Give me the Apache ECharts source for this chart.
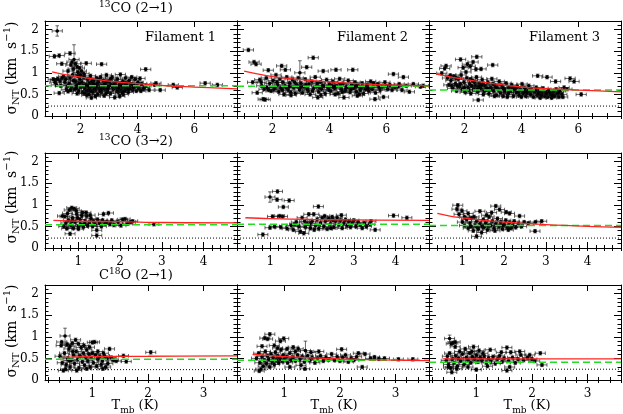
<!DOCTYPE html>
<html><head><meta charset="utf-8">
<script src="https://cdn.jsdelivr.net/npm/echarts@6/dist/echarts.min.js"></script>
<style>html,body{margin:0;padding:0;background:#fff}#c{width:623px;height:414px}</style>
</head><body><div id="c"></div>
<script>
// ---------------- DATA ----------------
const rowTitles = [['13','CO (2→1)'],['13','CO (3→2)'],['18','O (2→1)']];
const filamentNames = ['Filament 1','Filament 2','Filament 3'];
const xRange = [[0.75,7.5],[0.2,4.8],[0.15,3.6]];
const yRange = [0,2.2];
const xMajorTicks = [[2,4,6],[1,2,3,4],[1,2,3]];
const xMinorStep = [0.5,0.2,0.2];
const yMajorTicks = [0,0.5,1,1.5,2];
const yMinorStep = 0.1;
const xErr = [0.18,0.12,0.09];
const yErrDefault = 0.04;

// [Tmb, sigma, (optional sigma error)]
const p11 = [
[1.18,1.97,0.12],[1.08,1.38],[1.25,1.40],[1.63,1.45],[1.34,1.21],[1.77,1.31,0.34],[1.70,1.25],[1.82,1.21],[1.88,1.14],[1.96,1.11],[1.66,1.18],[1.74,1.09],[2.03,1.04],[2.20,1.22],[2.74,1.20],[4.29,1.08],[1.56,1.04],[1.91,1.01],[2.12,0.98],
[1.04,0.85],[1.12,0.83],[1.20,0.86],[1.28,0.81],[1.25,0.53],[1.40,0.92],[1.45,0.78],[1.50,0.62],[1.56,0.57],[1.60,0.75],[1.63,0.88],[1.68,0.68],[1.72,0.95],[1.78,0.62],[1.83,0.80],[1.86,0.71],[1.90,0.92],[1.93,0.58],[1.98,0.85],[2.01,0.67],
[2.05,0.78],[2.08,0.55],[2.12,0.90],[2.15,0.64],[2.18,0.72],[2.22,0.48],[2.25,0.85],[2.28,0.60],[2.31,0.76],[2.35,0.93],[2.38,0.42],[2.41,0.68],[2.43,0.55],[2.46,0.82],[2.50,0.72],[2.53,0.60],[2.56,0.88],[2.60,0.50],[2.62,0.78],[2.66,0.65],[2.70,0.90],[2.72,0.55],[2.76,0.70],[2.80,0.82],[2.83,0.47],[2.86,0.62],[2.88,0.75],[2.91,0.95],[2.95,0.57],[2.98,0.68],
[3.01,0.80],[3.05,0.52],[3.08,0.72],[3.11,0.90],[3.15,0.62],[3.20,0.43],[3.23,0.78],[3.26,0.66],[3.30,0.85],[3.33,0.55],[3.36,0.72],[3.40,0.96],[3.43,0.60],[3.48,0.80],[3.50,0.50],[3.53,0.68],[3.58,0.88],[3.60,0.62],[3.63,0.75],[3.68,0.55],[3.71,0.82],[3.75,0.66],[3.80,0.90],[3.83,0.60],[3.88,0.72],[3.92,0.85],[3.96,0.58],[4.00,0.70],[4.05,0.64],[4.09,0.87],[4.15,0.75],[4.20,0.62],[4.30,0.70],
[4.41,0.60],[4.60,0.72],[4.65,0.76],[4.80,0.60],[5.26,0.72],[5.40,0.66],[6.38,0.76],[6.81,0.72],
[2.10,0.70],[2.33,0.66],[2.48,0.62],[2.58,0.74],[2.68,0.58],[2.78,0.64],[2.93,0.80],[3.13,0.68],[3.28,0.58],[3.45,0.70],[3.55,0.58],[3.65,0.66],[3.78,0.74],[2.20,0.58],[2.40,0.80],[1.95,0.75],[1.75,0.82],[1.55,0.70],[1.35,0.88],[1.15,0.72],
[1.10,0.78],[1.30,0.70],[1.48,0.85],[1.65,0.60],[1.85,0.64],[2.00,0.95],[2.14,0.52],[2.26,0.70],[2.36,0.58],[2.44,0.74],[2.54,0.66],[2.64,0.84],[2.74,0.62],[2.84,0.72],[2.96,0.64],[3.06,0.86],[3.18,0.74],[3.34,0.64],[3.46,0.54],[3.56,0.76],[3.70,0.62],[3.86,0.66],[4.02,0.78],[4.12,0.58],[2.30,0.50],[2.90,0.52],[3.38,0.46],[2.52,0.46],[1.88,0.52],[4.25,0.66]
];
const p12 = [
[1.15,1.53],[1.35,1.25],[1.42,1.20],[1.85,1.06],[3.43,1.35],[2.96,1.00,0.28],[2.32,1.16],[2.45,1.07],[3.20,1.13],[3.78,1.04],[4.23,1.07],[4.82,1.07],[1.46,0.54],[1.67,0.39],[1.74,0.38],[3.59,0.43],[4.51,0.43],[4.98,0.47],[5.60,0.39],[5.90,0.44],[6.25,0.97],[6.60,0.90],[6.81,0.56],[7.30,0.70],
[1.30,0.78],[1.55,0.84],[1.62,0.70],[1.70,0.62],[1.78,0.88],[1.90,0.75],[1.95,0.58],[2.02,0.82],[2.08,0.66],[2.12,0.95],[2.18,0.72],[2.22,0.56],[2.26,0.86],[2.30,0.64],[2.36,0.78],[2.40,0.50],[2.44,0.70],[2.50,0.90],[2.55,0.60],[2.60,0.76],[2.64,0.55],[2.70,0.84],[2.74,0.66],[2.80,0.52],[2.85,0.72],[2.90,0.88],[2.95,0.60],[3.00,0.76],[3.05,0.54],[3.10,0.68],[3.15,0.85],[3.22,0.62],[3.28,0.74],[3.32,0.50],[3.38,0.80],[3.45,0.64],[3.50,0.90],[3.55,0.70],[3.62,0.56],[3.68,0.78],[3.72,0.62],[3.80,0.70],[3.85,0.52],[3.90,0.84],[3.95,0.66],[4.00,0.74],[4.05,0.58],[4.12,0.80],[4.18,0.64],[4.25,0.70],[4.30,0.52],[4.36,0.86],[4.42,0.62],[4.48,0.75],[4.55,0.58],[4.60,0.68],[4.66,0.82],[4.72,0.55],[4.78,0.72],[4.85,0.64],[4.90,0.78],[4.95,0.56],[5.02,0.70],[5.08,0.60],[5.15,0.76],[5.20,0.52],[5.25,0.66],[5.32,0.72],[5.38,0.58],[5.45,0.80],[5.50,0.62],[5.56,0.70],[5.62,0.54],[5.70,0.74],[5.78,0.60],[5.85,0.68],[5.95,0.78],[6.05,0.62],[6.12,0.72],[6.30,0.66],[6.45,0.74],[6.55,0.60],[6.70,0.70],[6.95,0.74],[7.20,0.68],
[2.05,0.62],[2.48,0.66],[2.88,0.68],[3.25,0.58],[3.65,0.66],[4.08,0.70],[4.45,0.56],[4.88,0.68],[5.28,0.62],[1.80,0.66],
[1.60,0.78],[1.86,0.60],[2.15,0.78],[2.34,0.60],[2.58,0.68],[2.78,0.78],[2.98,0.66],[3.18,0.72],[3.40,0.58],[3.58,0.76],[3.76,0.70],[3.98,0.60],[4.15,0.68],[4.38,0.74],[4.58,0.64],[4.76,0.62],[4.95,0.70],[5.12,0.66],[5.35,0.64],[5.55,0.76],[5.75,0.66],[6.00,0.70],[6.20,0.60],[6.40,0.68],[2.65,0.48],[3.70,0.48],[4.20,0.50],[5.05,0.50]
];
const p13 = [
[1.20,0.99],[1.35,1.16],[1.30,1.10],[1.86,1.31],[2.43,1.37],[2.10,1.20],[2.20,1.15],[2.40,1.08],[2.58,1.09],[2.99,1.18],[2.48,0.37],[4.57,0.93],[4.90,0.90],[5.71,0.87],[5.85,0.80],[6.10,0.50],[5.20,0.80],[1.95,1.12],[2.30,1.25],[2.05,1.02],
[1.40,0.88],[1.45,0.72],[1.52,0.82],[1.58,0.64],[1.62,0.92],[1.68,0.75],[1.72,0.58],[1.78,0.85],[1.82,0.68],[1.88,0.95],[1.92,0.62],[1.98,0.78],[2.02,0.55],[2.08,0.88],[2.12,0.66],[2.18,0.74],[2.22,0.52],[2.28,0.82],[2.32,0.62],[2.38,0.70],[2.42,0.90],[2.46,0.56],[2.52,0.76],[2.56,0.64],[2.62,0.84],[2.66,0.50],[2.72,0.70],[2.76,0.60],[2.82,0.78],[2.86,0.52],[2.92,0.66],[2.96,0.86],[3.02,0.58],[3.06,0.72],[3.12,0.48],[3.16,0.64],[3.22,0.80],[3.26,0.54],[3.32,0.70],[3.36,0.46],[3.42,0.62],[3.46,0.76],[3.52,0.50],[3.56,0.66],[3.62,0.58],[3.66,0.72],[3.72,0.46],[3.76,0.62],[3.82,0.54],[3.86,0.68],[3.92,0.48],[3.96,0.60],[4.02,0.74],[4.06,0.52],[4.12,0.64],[4.16,0.46],[4.22,0.58],[4.26,0.70],[4.32,0.50],[4.36,0.62],[4.42,0.44],[4.46,0.56],[4.52,0.66],[4.56,0.48],[4.62,0.58],[4.66,0.42],[4.72,0.54],[4.76,0.64],[4.82,0.46],[4.86,0.56],[4.92,0.44],[4.96,0.60],[5.02,0.50],[5.06,0.42],[5.12,0.56],[5.16,0.46],[5.22,0.62],[5.26,0.52],[5.32,0.44],[5.36,0.58],[5.42,0.50],[5.50,0.66],[5.60,0.62],
[1.55,0.70],[2.15,0.60],[2.35,0.78],[2.70,0.58],[3.10,0.66],[3.40,0.56],[3.80,0.66],[4.20,0.54],[4.60,0.52],[5.00,0.54],[2.90,0.62],[2.50,0.68],
[1.50,0.94],[1.70,0.88],[1.85,0.74],[2.00,0.66],[2.25,0.70],[2.45,0.62],[2.60,0.72],[2.80,0.64],[3.00,0.74],[3.20,0.60],[3.35,0.64],[3.55,0.54],[3.70,0.64],[3.90,0.56],[4.10,0.56],[4.30,0.60],[4.50,0.58],[4.70,0.48],[4.88,0.52],[5.10,0.48],[5.30,0.54],[5.45,0.44],[3.05,0.46],[3.50,0.44],[4.00,0.44],[2.65,0.74],[1.75,0.70],[2.20,0.85]
];
const p21 = [
[0.84,0.93],[0.90,0.91],[0.78,0.88],[0.95,0.86],[0.68,0.73],[0.62,0.74],[0.80,0.33],[1.44,0.41],[1.44,0.29],[1.72,0.81],[2.12,0.67],[2.30,0.62],[1.85,0.53],[2.81,0.55],[1.60,0.78],
[0.65,0.50],[0.70,0.58],[0.72,0.45],[0.76,0.64],[0.82,0.52],[0.86,0.70],[0.88,0.46],[0.92,0.60],[0.96,0.78],[1.00,0.50],[1.04,0.66],[1.06,0.55],[1.10,0.82],[1.12,0.48],[1.16,0.62],[1.20,0.74],[1.22,0.52],[1.26,0.58],[1.30,0.68],[1.34,0.50],[1.36,0.62],[1.40,0.55],[1.46,0.66],[1.50,0.58],[1.55,0.50],[1.58,0.64],[1.64,0.56],[1.68,0.60],[1.76,0.55],[1.80,0.64],[1.95,0.60],[2.02,0.52],[2.06,0.66],[2.18,0.56],[2.25,0.60],[0.98,0.70],[1.08,0.75],[1.18,0.82],[1.28,0.76],[1.00,0.44],[1.14,0.56],[0.74,0.80],[0.85,0.62]
];
const p22 = [
[0.99,1.18,0.12],[1.17,1.31],[1.16,1.12],[1.45,1.10],[1.31,0.95],[2.15,0.96],[1.05,0.73],[1.29,0.73],[0.82,0.31],[0.99,0.47],[3.95,0.75],[4.27,0.70],[3.51,0.42],[3.41,0.62],[1.22,0.74],
[1.10,0.50],[1.25,0.48],[1.40,0.45],[1.50,0.52],[1.55,0.42],[1.62,0.60],[1.68,0.50],[1.72,0.38],[1.76,0.70],[1.80,0.34],[1.84,0.48],[1.88,0.56],[1.92,0.78],[1.96,0.46],[2.00,0.62],[2.04,0.78],[2.08,0.52],[2.12,0.66],[2.16,0.45],[2.20,0.58],[2.24,0.70],[2.28,0.50],[2.32,0.62],[2.36,0.44],[2.40,0.68],[2.44,0.56],[2.48,0.72],[2.52,0.48],[2.56,0.62],[2.60,0.70],[2.64,0.54],[2.68,0.64],[2.72,0.46],[2.76,0.58],[2.80,0.66],[2.84,0.52],[2.88,0.62],[2.92,0.48],[2.96,0.58],[3.00,0.64],[3.05,0.50],[3.10,0.60],[3.15,0.54],[3.20,0.46],[3.25,0.58],[3.30,0.50],[3.38,0.55],[1.95,0.56],[2.30,0.74],[2.50,0.64],[2.70,0.76],[1.58,0.55],[1.82,0.62],[2.05,0.42],[2.45,0.46]
];
const p23 = [
[0.89,0.99],[0.87,0.90],[0.99,0.86],[1.14,0.80],[1.80,0.97],[1.89,0.89],[2.05,0.83],[2.13,0.80],[2.37,0.74],[1.34,0.27],[2.74,0.39],[2.90,0.62],[2.75,0.60],[2.58,0.57],[1.42,0.85],[0.92,0.78],[1.05,0.72],
[1.00,0.60],[1.05,0.52],[1.10,0.66],[1.14,0.46],[1.18,0.58],[1.22,0.70],[1.26,0.40],[1.30,0.52],[1.34,0.62],[1.38,0.44],[1.42,0.56],[1.46,0.36],[1.50,0.66],[1.52,0.48],[1.56,0.58],[1.60,0.42],[1.64,0.72],[1.68,0.52],[1.72,0.62],[1.76,0.46],[1.80,0.56],[1.84,0.68],[1.88,0.50],[1.92,0.60],[1.96,0.44],[2.00,0.54],[2.04,0.64],[2.08,0.48],[2.12,0.58],[2.16,0.46],[2.20,0.52],[2.24,0.62],[2.28,0.48],[2.34,0.56],[2.42,0.50],[2.48,0.60],[1.28,0.72],[1.58,0.76],[1.70,0.82],[1.48,0.50],[1.36,0.48],[1.62,0.52],[1.78,0.40],[1.95,0.52],[2.10,0.42],[1.20,0.50]
];
const p31 = [
[0.51,1.02,0.18],[0.45,0.88],[0.70,0.93],[0.64,0.85],[1.00,0.87],[1.04,0.88],[0.48,0.22],[0.52,0.25],[1.31,0.72],[1.56,0.56],[1.43,0.44],[1.61,0.43],[2.05,0.64],[1.16,0.36],[1.19,0.26],[0.80,0.75],[0.90,0.70],
[0.42,0.55],[0.46,0.40],[0.50,0.62],[0.53,0.35],[0.56,0.50],[0.58,0.72],[0.60,0.30],[0.62,0.45],[0.66,0.58],[0.68,0.38],[0.71,0.66],[0.74,0.48],[0.76,0.28],[0.78,0.56],[0.82,0.42],[0.84,0.62],[0.86,0.34],[0.88,0.52],[0.92,0.44],[0.94,0.60],[0.96,0.30],[0.98,0.50],[1.02,0.40],[1.06,0.58],[1.08,0.32],[1.10,0.48],[1.13,0.54],[1.18,0.44],[1.22,0.56],[1.26,0.50],[1.28,0.38],[1.34,0.52],[1.38,0.46],[1.24,0.30],[0.44,0.80],[0.55,0.82],[0.60,0.78],[0.75,0.84],[0.85,0.80],[0.95,0.76],[1.10,0.66],[1.20,0.62],[0.65,0.66],[0.72,0.22],[0.90,0.26],[1.00,0.62],[0.58,0.45]
];
const p32 = [
[0.74,1.06],[0.65,0.97],[0.70,0.95],[0.99,0.96],[0.93,0.90],[1.38,0.68,0.22],[1.16,0.76],[1.25,0.72],[2.03,0.71],[2.33,0.62],[2.45,0.60],[2.70,0.49],[2.80,0.50],[3.05,0.48],[3.31,0.48],[0.55,0.21],[0.58,0.25],[1.37,0.26],[2.40,0.30],[0.60,0.78],[0.82,0.80],
[0.50,0.50],[0.54,0.62],[0.56,0.40],[0.60,0.54],[0.62,0.32],[0.64,0.46],[0.66,0.66],[0.68,0.38],[0.70,0.56],[0.72,0.48],[0.74,0.30],[0.76,0.60],[0.78,0.42],[0.80,0.52],[0.82,0.36],[0.84,0.64],[0.86,0.46],[0.88,0.56],[0.90,0.40],[0.92,0.50],[0.94,0.70],[0.96,0.44],[0.98,0.58],[1.00,0.48],[1.04,0.54],[1.06,0.40],[1.10,0.62],[1.12,0.46],[1.16,0.52],[1.20,0.44],[1.24,0.58],[1.28,0.48],[1.32,0.54],[1.36,0.42],[1.42,0.56],[1.46,0.46],[1.50,0.52],[1.55,0.40],[1.60,0.50],[1.65,0.56],[1.70,0.44],[1.75,0.52],[1.80,0.48],[1.85,0.60],[1.90,0.46],[1.95,0.54],[2.00,0.44],[2.05,0.52],[2.10,0.58],[2.15,0.42],[2.20,0.50],[2.25,0.46],[2.30,0.54],[1.48,0.64],[1.62,0.66],[1.20,0.66],[1.05,0.72],[0.88,0.74],[2.55,0.50],[2.62,0.53],[1.30,0.34],[1.10,0.30]
];
const p33 = [
[0.52,0.96,0.08],[0.58,0.86],[0.55,0.84],[0.62,0.88],[0.62,0.77],[0.95,0.77],[0.80,0.72],[1.55,0.75],[1.62,0.64],[1.78,0.66],[1.80,0.58],[1.96,0.58],[2.15,0.62],[0.56,0.18],[1.00,0.24],[1.55,0.22],[2.18,0.35],[1.25,0.70],[1.05,0.68],
[0.46,0.45],[0.48,0.55],[0.50,0.36],[0.52,0.62],[0.54,0.28],[0.57,0.48],[0.60,0.40],[0.63,0.56],[0.66,0.32],[0.68,0.50],[0.72,0.44],[0.75,0.60],[0.78,0.36],[0.82,0.52],[0.85,0.46],[0.88,0.62],[0.90,0.40],[0.93,0.54],[0.97,0.48],[1.00,0.58],[1.03,0.42],[1.07,0.52],[1.10,0.46],[1.14,0.56],[1.18,0.40],[1.22,0.50],[1.26,0.44],[1.30,0.54],[1.34,0.38],[1.38,0.48],[1.42,0.56],[1.46,0.42],[1.50,0.50],[1.58,0.44],[1.65,0.52],[1.70,0.40],[1.75,0.48],[1.85,0.46],[1.92,0.52],[2.00,0.48],[2.05,0.44],[0.70,0.66],[0.92,0.66],[1.12,0.62],[1.45,0.64],[0.50,0.30],[0.65,0.26],[0.85,0.30],[1.60,0.30],[1.20,0.32]
];
const panelPoints = [p11,p12,p13,p21,p22,p23,p31,p32,p33];

// red fit curves
const fit11 = [[1.0,1.02],[1.5,0.95],[2,0.90],[3,0.81],[4,0.75],[5,0.70],[6,0.67],[7.5,0.63]];
const fit12 = [[1.0,1.04],[2,0.91],[3,0.84],[4,0.79],[5,0.75],[6,0.72],[7.5,0.70]];
const fit13 = [[1.0,0.97],[2,0.85],[3,0.75],[4,0.67],[5,0.63],[6,0.60],[7.5,0.56]];
const fit21 = [[0.4,0.64],[1,0.62],[2,0.61],[3,0.59],[4.8,0.58]];
const fit22 = [[0.4,0.70],[1,0.68],[2,0.66],[3,0.65],[4.8,0.64]];
const fit23 = [[0.4,0.80],[0.7,0.74],[1,0.70],[1.5,0.64],[2,0.60],[3,0.54],[4,0.50],[4.8,0.48]];
const fit31 = [[0.42,0.52],[1,0.54],[2,0.55],[3.6,0.56]];
const fit32 = [[0.43,0.59],[0.7,0.57],[1,0.54],[2,0.49],[3,0.46],[3.6,0.45]];
const fit33 = [[0.39,0.49],[3.6,0.49]];
const fitLines = [fit11,fit12,fit13,fit21,fit22,fit23,fit31,fit32,fit33];

const meanLevels = [0.70,0.69,0.60, 0.54,0.55,0.52, 0.48,0.46,0.41];
const soundLevel = [0.23,0.23,0.23, 0.23,0.23,0.23, 0.24,0.25,0.25];

// ---------------- LAYOUT ----------------
const FONT = 'DejaVu Serif';
const gridLeft = [45,237,429], gridW = 192;
const gridTop = [21,153,285], gridH = 95;

function steps(min,max,step){
  const out=[]; const s=Math.ceil(min/step-1e-9);
  for(let k=s; k*step<=max+1e-9; k++) out.push(+(k*step).toFixed(4));
  return out;
}

function renderErr(params, api){
  const x=api.value(0), y=api.value(1), xe=api.value(2), ye=api.value(3);
  const c=api.coord([x,y]), l=api.coord([x-xe,y]), rr=api.coord([x+xe,y]);
  const t=api.coord([x,y+ye]), b=api.coord([x,y-ye]);
  const cap=1.8;
  const line=(x1,y1,x2,y2)=>({type:'line', shape:{x1,y1,x2,y2}, style:{stroke:'#111', lineWidth:0.85, opacity:0.75}});
  return {type:'group', children:[
    line(l[0],c[1],rr[0],c[1]), line(l[0],c[1]-cap,l[0],c[1]+cap), line(rr[0],c[1]-cap,rr[0],c[1]+cap),
    line(c[0],t[1],c[0],b[1]), line(c[0]-cap,t[1],c[0]+cap,t[1]), line(c[0]-cap,b[1],c[0]+cap,b[1]),
    {type:'circle', shape:{cx:c[0],cy:c[1],r:1.8}, style:{fill:'#000'}}
  ]};
}

const grids=[], xAxes=[], yAxes=[], series=[];
const axLine = {show:true, onZero:false, lineStyle:{color:'#000', width:1}};
const tickStyle = {color:'#000', width:1};
const labelStyle = {color:'#000', fontFamily:FONT, fontSize:12};

for(let r=0;r<3;r++){
  for(let c=0;c<3;c++){
    const k=r*3+c;
    grids.push({left:gridLeft[c], top:gridTop[r], width:gridW, height:gridH, outerBoundsMode:'none'});
    const xb={type:'value', gridIndex:k, min:xRange[r][0], max:xRange[r][1], splitLine:{show:false}};
    const xMin=steps(xRange[r][0],xRange[r][1],xMinorStep[r]);
    xAxes.push(Object.assign({},xb,{position:'bottom', axisLine:axLine,
      axisTick:{show:true, inside:true, length:6, customValues:xMajorTicks[r], lineStyle:tickStyle},
      axisLabel:Object.assign({show:true, customValues:xMajorTicks[r], margin:8, formatter:v=>String(v)},labelStyle)}));
    xAxes.push(Object.assign({},xb,{position:'bottom', axisLine:{show:false},
      axisTick:{show:true, inside:true, length:3, customValues:xMin, lineStyle:tickStyle}, axisLabel:{show:false}}));
    xAxes.push(Object.assign({},xb,{position:'top', axisLine:axLine,
      axisTick:{show:true, inside:true, length:6, customValues:xMajorTicks[r], lineStyle:tickStyle}, axisLabel:{show:false}}));
    xAxes.push(Object.assign({},xb,{position:'top', axisLine:{show:false},
      axisTick:{show:true, inside:true, length:3, customValues:xMin, lineStyle:tickStyle}, axisLabel:{show:false}}));

    const yb={type:'value', gridIndex:k, min:yRange[0], max:yRange[1], splitLine:{show:false}};
    const yMin=steps(yRange[0],yRange[1],yMinorStep);
    yAxes.push(Object.assign({},yb,{position:'left', axisLine:axLine,
      axisTick:{show:true, inside:true, length:7, customValues:yMajorTicks, lineStyle:tickStyle},
      axisLabel:Object.assign({show:c===0, customValues:yMajorTicks, margin:6, formatter:v=>String(v)},labelStyle)}));
    yAxes.push(Object.assign({},yb,{position:'left', axisLine:{show:false},
      axisTick:{show:true, inside:true, length:3.5, customValues:yMin, lineStyle:tickStyle}, axisLabel:{show:false}}));
    yAxes.push(Object.assign({},yb,{position:'right', axisLine:axLine,
      axisTick:{show:true, inside:true, length:7, customValues:yMajorTicks, lineStyle:tickStyle}, axisLabel:{show:false}}));
    yAxes.push(Object.assign({},yb,{position:'right', axisLine:{show:false},
      axisTick:{show:true, inside:true, length:3.5, customValues:yMin, lineStyle:tickStyle}, axisLabel:{show:false}}));

    const ai=4*k;
    series.push({type:'custom', xAxisIndex:ai, yAxisIndex:ai, clip:true, z:2, silent:true,
      encode:{x:0,y:1}, renderItem:renderErr,
      data: panelPoints[k].map(p=>[p[0],p[1],xErr[r],p.length>2?p[2]:yErrDefault])});
    series.push({type:'line', xAxisIndex:ai, yAxisIndex:ai, z:4, silent:true, showSymbol:false, symbol:'none',
      data:[[xRange[r][0],soundLevel[k]],[xRange[r][1],soundLevel[k]]],
      lineStyle:{color:'#000', width:1, type:[1,2]}});
    series.push({type:'line', xAxisIndex:ai, yAxisIndex:ai, z:5, silent:true, showSymbol:false, symbol:'none',
      data:[[xRange[r][0],meanLevels[k]],[xRange[r][1],meanLevels[k]]],
      lineStyle:{color:'#22dd22', width:1.5, type:[7,4]}});
    series.push({type:'line', xAxisIndex:ai, yAxisIndex:ai, z:6, silent:true, showSymbol:false, symbol:'none', smooth:0.4,
      data:fitLines[k], lineStyle:{color:'#ff2424', width:1.3}});
  }
}

const rich = {
  n:{fontFamily:FONT, fontSize:13, color:'#000', lineHeight:18, verticalAlign:'middle'},
  sup:{fontFamily:FONT, fontSize:9, color:'#000', lineHeight:18, verticalAlign:'top'},
  sub:{fontFamily:FONT, fontSize:9, color:'#000', lineHeight:18, verticalAlign:'bottom'}
};
const richY = {
  n:{fontFamily:FONT, fontSize:14, color:'#000', lineHeight:19, verticalAlign:'middle'},
  sup:{fontFamily:FONT, fontSize:10, color:'#000', lineHeight:19, verticalAlign:'top'},
  sub:{fontFamily:FONT, fontSize:10, color:'#000', lineHeight:19, verticalAlign:'bottom'}
};
function txt(x,y,text,rot,rs){
  return {type:'text', x:x, y:y, rotation:rot||0, silent:true,
    style:{text:text, rich:rs||rich, align:'center', verticalAlign:'middle', textAlign:'center', textVerticalAlign:'middle'}};
}
const graphics=[];
const titleY=[9,142,276];
graphics.push(txt(136,titleY[0],'{sup|'+rowTitles[0][0]+'}{n|'+rowTitles[0][1]+'}'));
graphics.push(txt(136,titleY[1],'{sup|'+rowTitles[1][0]+'}{n|'+rowTitles[1][1]+'}'));
graphics.push(txt(136,titleY[2],'{n|C}{sup|'+rowTitles[2][0]+'}{n|'+rowTitles[2][1]+'}'));
const yTitleCY=[68,197,331];
for(let r=0;r<3;r++) graphics.push(txt(12,yTitleCY[r],'{n|σ}{sub|NT}{n| (km  s}{sup|−1}{n|)}',Math.PI/2,richY));
const xTitleCX=[135,334,527];
for(let c=0;c<3;c++){
  graphics.push(txt(xTitleCX[c],406,'{n|T}{sub|mb}{n| (K)}'));
  graphics.push({type:'text', x:gridLeft[c]+100, y:38, silent:true,
    style:{text:filamentNames[c], font:'13px "DejaVu Serif"', fill:'#000', align:'left', verticalAlign:'middle', textAlign:'left', textVerticalAlign:'middle'}});
}

const chart = echarts.init(document.getElementById('c'), null, {renderer:'canvas'});
chart.setOption({
  animation:false,
  backgroundColor:'#fff',
  grid:grids, xAxis:xAxes, yAxis:yAxes, series:series, graphic:graphics
});
</script></body></html>
